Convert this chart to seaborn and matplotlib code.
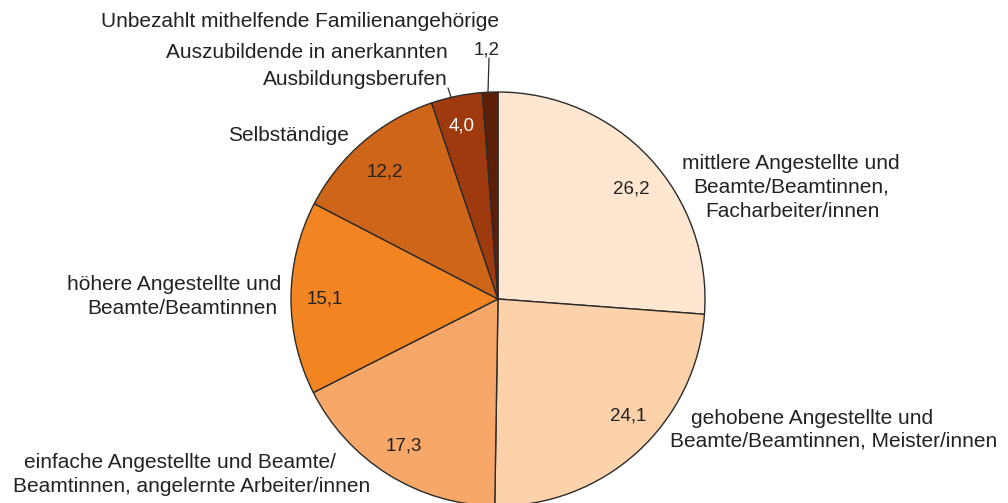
import matplotlib
matplotlib.use("Agg")
import matplotlib.pyplot as plt
import seaborn as sns

sns.set_theme(style="white")
plt.rcParams['font.family'] = ['Liberation Sans', 'DejaVu Sans']

# Data (clockwise from top)
categories = [
    "mittlere Angestellte und Beamte/Beamtinnen, Facharbeiter/innen",
    "gehobene Angestellte und Beamte/Beamtinnen, Meister/innen",
    "einfache Angestellte und Beamte/Beamtinnen, angelernte Arbeiter/innen",
    "höhere Angestellte und Beamte/Beamtinnen",
    "Selbständige",
    "Auszubildende in anerkannten Ausbildungsberufen",
    "Unbezahlt mithelfende Familienangehörige",
]
values = [26.2, 24.1, 17.3, 15.1, 12.2, 4.0, 1.2]
value_labels = ["26,2", "24,1", "17,3", "15,1", "12,2", "4,0", "1,2"]
colors = ["#FEE6D0", "#FCD2AA", "#F7A868", "#F28422", "#CF6519", "#9E3A0E", "#5C1F08"]

W, H = 1008, 503
fig = plt.figure(figsize=(W / 100, H / 100), dpi=100)
ax = fig.add_axes([0, 0, 1, 1])

cx, cy, r = 498, H - 299, 207
ax.pie(values, colors=colors, startangle=90, counterclock=False,
       center=(cx, cy), radius=r, frame=True,
       wedgeprops=dict(edgecolor="#2b2b2b", linewidth=1.0))
ax.set_xlim(0, W)
ax.set_ylim(0, H)
ax.axis("off")

fs = 15
fs_num = 13.5
tc = "#222222"

def t(x, y, s, **kw):
    kw.setdefault("color", tc)
    kw.setdefault("fontsize", fs)
    kw.setdefault("ha", "center")
    kw.setdefault("va", "center")
    ax.text(x, H - y, s, **kw)

# value labels
t(631, 189, value_labels[0], fontsize=fs_num)
t(628, 416, value_labels[1], fontsize=fs_num)
t(404, 446, value_labels[2], fontsize=fs_num)
t(325, 299, value_labels[3], fontsize=fs_num)
t(385, 172, value_labels[4], fontsize=fs_num)
t(462, 126, value_labels[5], color="white", fontsize=fs_num)
t(487, 50, value_labels[6], fontsize=fs_num)

# category labels (line by line)
t(791, 163, "mittlere Angestellte und")
t(791, 187, "Beamte/Beamtinnen,")
t(792, 211, "Facharbeiter/innen")

t(812, 418, "gehobene Angestellte und")
t(834, 441, "Beamte/Beamtinnen, Meister/innen")

t(180, 463, "einfache Angestellte und Beamte/")
t(192, 486, "Beamtinnen, angelernte Arbeiter/innen")

t(281, 285, "höhere Angestellte und", ha="right")
t(277, 309, "Beamte/Beamtinnen", ha="right")

t(349, 135, "Selbständige", ha="right")

t(448, 52, "Auszubildende in anerkannten", ha="right")
t(448, 79, "Ausbildungsberufen", ha="right")

t(300, 21, "Unbezahlt mithelfende Familienangehörige")

# leader lines
ax.plot([489, 488], [H - 58, H - 92], color="#2b2b2b", lw=0.9)
ax.plot([448, 451], [H - 88, H - 97], color="#2b2b2b", lw=0.9)

fig.savefig("out.png", dpi=100)
